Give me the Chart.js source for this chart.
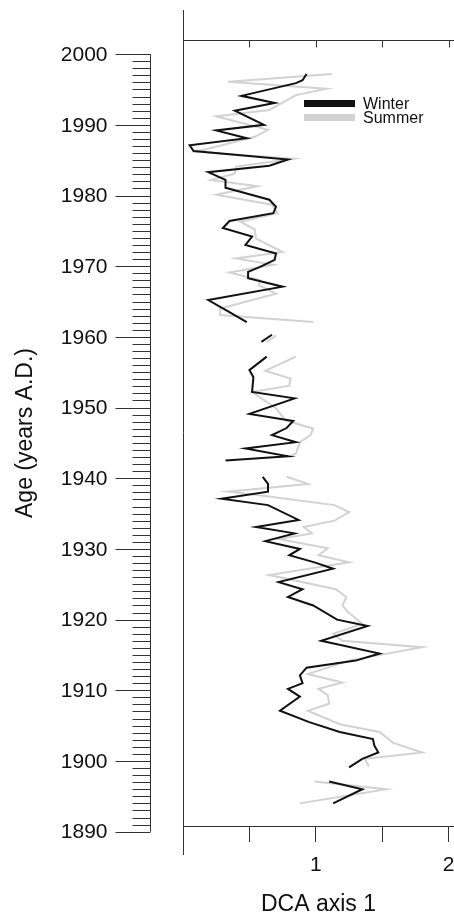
<!DOCTYPE html>
<html>
<head>
<meta charset="utf-8">
<script src="https://cdn.jsdelivr.net/npm/chart.js@4/dist/chart.umd.min.js"></script>
<style>
  body { margin: 0; background: #fff; }
  #wrap { position: relative; width: 454px; height: 918px; }
  #legend { position: absolute; left: 304px; top: 97px; font: 16px "Liberation Sans", Arial, sans-serif; color: #111; }
  #legend .row { height: 14px; line-height: 14px; white-space: nowrap; }
  #legend .sw { display: inline-block; width: 51px; height: 7px; margin-right: 8px; vertical-align: middle; position: relative; top: -1px; }
</style>
</head>
<body>
<div id="wrap">
  <canvas id="myChart" width="454" height="918"></canvas>
  <div id="legend">
    <div class="row"><span class="sw" style="background:#111"></span>Winter</div>
    <div class="row"><span class="sw" style="background:#d2d2d2"></span>Summer</div>
  </div>
</div>
<script>
// data (null = gap in the record)
let winterYears = [1997.2, 1996.3, 1995.9, 1994.1, 1993.1, 1992.0, 1990.0, 1989.2, 1988.1, 1987.1,
  1986.3, 1985.1, 1984.2, 1983.3, 1982.2, 1981.1, 1979.4, 1978.4, 1977.5, 1976.4,
  1975.4, 1974.2, 1973.0, 1971.8, 1970.9, 1969.9, 1969.2, 1968.3, 1967.1, 1965.2,
  1963.7, 1962.1, null, 1960.3, 1959.3, null, 1957.2, 1955.3, 1954.3, 1952.2,
  1951.3, 1949.1, 1948.1, 1947.1, 1946.1, 1945.1, 1944.2, 1943.1, 1942.5, null,
  1940.2, 1939.2, 1938.1, 1937.1, 1936.2, 1934.1, 1933.1, 1932.2, 1931.1, 1930.0,
  1929.1, 1928.1, 1927.2, 1925.3, 1924.3, 1923.2, 1922.0, 1920.0, 1919.1, 1917.0,
  1915.2, 1914.2, 1913.2, 1912.1, 1911.0, 1910.2, 1909.1, 1907.1, 1905.5, 1904.1,
  1903.1, 1902.2, 1901.2, 1900.3, 1899.1, null, 1897.1, 1896.0, 1894.0];
let winterValues = [0.93, 0.90, 0.85, 0.44, 0.69, 0.39, 0.61, 0.25, 0.48, 0.05,
  0.08, 0.79, 0.65, 0.19, 0.32, 0.32, 0.65, 0.70, 0.68, 0.35,
  0.30, 0.52, 0.47, 0.70, 0.69, 0.58, 0.49, 0.49, 0.75, 0.19,
  0.33, 0.48, null, 0.67, 0.59, null, 0.63, 0.50, 0.53, 0.52,
  0.84, 0.50, 0.83, 0.78, 0.67, 0.85, 0.47, 0.79, 0.32, null,
  0.60, 0.64, 0.64, 0.29, 0.64, 0.87, 0.55, 0.84, 0.62, 0.88,
  0.80, 0.99, 1.13, 0.72, 0.90, 0.79, 0.98, 1.16, 1.39, 1.04,
  1.48, 1.30, 0.93, 0.88, 0.90, 0.79, 0.88, 0.73, 0.95, 1.18,
  1.43, 1.44, 1.47, 1.35, 1.25, null, 1.10, 1.35, 1.13];

let summerYears = [1997.2, 1996.1, 1995.1, 1994.2, 1992.1, 1991.2, 1989.3, 1988.3, 1986.2, 1985.2,
  1984.1, 1983.1, 1982.2, 1981.3, 1980.1, 1978.7, 1977.5, 1976.3, 1975.2, 1973.9,
  1972.0, 1971.1, 1970.2, 1969.1, 1968.0, 1967.3, 1966.1, 1964.0, 1963.1, 1962.1,
  null, 1960.2, 1959.3, null, 1957.2, 1955.2, 1954.1, 1953.1, 1952.2, 1949.9,
  1948.2, 1947.0, 1946.1, 1945.1, 1943.5, 1943.0, null, 1940.2, 1939.2, 1938.1,
  1937.7, 1936.2, 1935.2, 1934.0, 1933.1, 1932.2, 1931.4, 1930.1, 1929.1, 1928.1,
  1926.3, 1924.3, 1923.2, 1922.0, 1921.1, 1919.4, 1918.0, 1917.0, 1916.1, 1914.2,
  1912.3, 1911.1, 1910.2, 1909.3, 1908.1, 1907.1, 1905.2, 1904.1, 1902.6, 1901.2,
  1900.3, 1899.2, null, 1897.1, 1896.0, 1894.0];
let summerValues = [1.12, 0.34, 1.08, 0.85, 0.65, 0.25, 0.64, 0.54, 0.10, 0.83,
  0.40, 0.39, 0.21, 0.56, 0.25, 0.67, 0.71, 0.43, 0.54, 0.55,
  0.75, 0.40, 0.68, 0.35, 0.58, 0.57, 0.70, 0.28, 0.28, 0.98,
  null, 0.70, 0.63, null, 0.85, 0.62, 0.81, 0.80, 0.52, 0.70,
  0.77, 0.98, 0.96, 0.88, 0.85, 0.80, null, 0.78, 0.94, 0.34,
  0.53, 1.14, 1.25, 1.14, 0.91, 0.97, 0.72, 1.09, 1.02, 1.25,
  0.65, 1.15, 1.23, 1.20, 1.24, 1.35, 1.13, 1.20, 1.80, 1.25,
  0.94, 1.20, 1.02, 1.09, 1.10, 0.94, 1.18, 1.48, 1.58, 1.80,
  1.37, 1.40, null, 0.99, 1.53, 0.88];

let yearTicks = [1890, 1900, 1910, 1920, 1930, 1940, 1950, 1960, 1970, 1980, 1990, 2000];
let dcaTicks = [0.5, 1, 1.5, 2];
let dcaLabels = [1, 2];

const axisColor = "#333";
Chart.defaults.font.family = '"Liberation Sans", Arial, sans-serif';
Chart.defaults.color = "#111";

function toPoints(years, values) {
  return years.map((yr, i) => ({ x: values[i], y: yr }));
}

// draws the frame line at the top, the long left line and the separate year ruler
const framePlugin = {
  id: "frame",
  afterDraw(chart) {
    const { ctx, chartArea: a, scales: { x, y } } = chart;
    ctx.save();
    ctx.strokeStyle = axisColor;
    ctx.lineWidth = 1;
    ctx.beginPath();
    const x0 = Math.round(x.getPixelForValue(0)) + 0.5;
    ctx.moveTo(x0, a.top - 30);
    ctx.lineTo(x0, a.bottom + 29);
    const top = Math.round(a.top) + 0.5;
    ctx.moveTo(a.left, top);
    ctx.lineTo(a.right, top);
    dcaTicks.forEach(v => {
      const px = Math.round(x.getPixelForValue(v)) + 0.5;
      ctx.moveTo(px, top);
      ctx.lineTo(px, top + 7);
    });
    // year ruler
    const rx = Math.round(a.left - 33) + 0.5;
    const first = yearTicks[0], last = yearTicks[yearTicks.length - 1];
    ctx.moveTo(rx, y.getPixelForValue(last));
    ctx.lineTo(rx, y.getPixelForValue(first));
    for (let yr = first; yr <= last; yr++) {
      const py = Math.round(y.getPixelForValue(yr)) + 0.5;
      ctx.moveTo(rx - (yr % 10 === 0 ? 35 : 18), py);
      ctx.lineTo(rx, py);
    }
    ctx.stroke();
    ctx.fillStyle = "#111";
    ctx.font = '21px "Liberation Sans", Arial, sans-serif';
    ctx.textAlign = "right";
    ctx.textBaseline = "middle";
    yearTicks.forEach(yr => {
      ctx.fillText(String(yr), rx - 43, y.getPixelForValue(yr) + 1);
    });
    ctx.restore();
  }
};

new Chart(document.getElementById("myChart"), {
  type: "line",
  data: {
    datasets: [
      { label: "Winter", data: toPoints(winterYears, winterValues), borderColor: "#111", borderWidth: 2 },
      { label: "Summer", data: toPoints(summerYears, summerValues), borderColor: "#d2d2d2", borderWidth: 2 }
    ]
  },
  options: {
    responsive: false,
    animation: false,
    spanGaps: false,
    elements: { point: { radius: 0 }, line: { tension: 0, fill: false } },
    layout: { padding: { left: 10, top: 40, right: 0, bottom: 0 } },
    plugins: { legend: { display: false }, tooltip: { enabled: false } },
    scales: {
      x: {
        type: "linear",
        min: 0,
        max: 2.04,
        border: { color: axisColor },
        grid: { drawOnChartArea: false, tickLength: 16, color: axisColor },
        ticks: {
          stepSize: 0.5,
          includeBounds: false,
          autoSkip: false,
          maxRotation: 0,
          padding: 11,
          font: { size: 21 },
          callback: v => dcaLabels.includes(v) ? String(v) : ""
        },
        title: { display: true, text: "DCA axis 1", font: { size: 23 }, padding: 0 },
        afterFit: s => { s.height = 92; s.paddingLeft = 0; s.paddingRight = 0; }
      },
      y: {
        type: "linear",
        min: 1890.8,
        max: 2002.0,
        grid: { display: false },
        border: { display: false },
        ticks: { display: false },
        title: { display: true, text: "Age (years A.D.)", font: { size: 23 }, padding: { top: 2, bottom: 0 } },
        afterFit: s => { s.width = 173; s.paddingTop = 0; s.paddingBottom = 0; }
      }
    }
  },
  plugins: [framePlugin]
});
</script>
</body>
</html>
